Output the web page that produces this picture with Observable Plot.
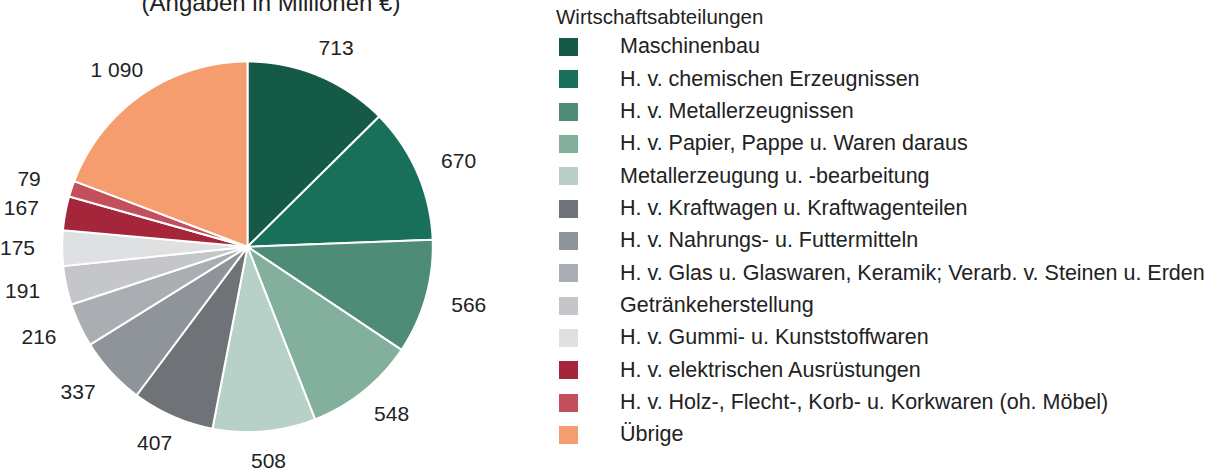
<!DOCTYPE html>
<html>
<head>
<meta charset="utf-8">
<script src="https://cdn.jsdelivr.net/npm/d3@7"></script>
<script src="https://cdn.jsdelivr.net/npm/@observablehq/plot@0.6"></script>
<style>
  html, body { margin: 0; padding: 0; background: #fff; }
  body { width: 1214px; height: 472px; position: relative; overflow: hidden;
         font-family: "Liberation Sans", Arial, sans-serif; color: #222; }
  #title { position: absolute; left: 0; width: 542px; top: -9px; text-align: center;
           font-size: 24px; line-height: 24px; white-space: nowrap; }
  #chart { position: absolute; left: 0; top: 0; }
  #legend-title { position: absolute; left: 556px; top: 6px; font-size: 20.5px; line-height: 21px; white-space: nowrap; }
  #legend { position: absolute; left: 559px; top: 30.8px; }
  .row { height: 32.33px; display: flex; align-items: center; white-space: nowrap; font-size: 21.5px; }
  .sw { width: 19px; height: 18px; margin-right: 42px; flex: none; }
</style>
</head>
<body>
<div id="title"></div>
<div id="chart"></div>
<div id="legend-title"></div>
<div id="legend"></div>
<script>
const categories = [
  "Maschinenbau",
  "H. v. chemischen Erzeugnissen",
  "H. v. Metallerzeugnissen",
  "H. v. Papier, Pappe u. Waren daraus",
  "Metallerzeugung u. -bearbeitung",
  "H. v. Kraftwagen u. Kraftwagenteilen",
  "H. v. Nahrungs- u. Futtermitteln",
  "H. v. Glas u. Glaswaren, Keramik; Verarb. v. Steinen u. Erden",
  "Getränkeherstellung",
  "H. v. Gummi- u. Kunststoffwaren",
  "H. v. elektrischen Ausrüstungen",
  "H. v. Holz-, Flecht-, Korb- u. Korkwaren (oh. Möbel)",
  "Übrige"
];
const values = [713, 670, 566, 548, 508, 407, 337, 216, 191, 175, 167, 79, 1090];
const colors = [
  "#155a47", "#19705a", "#4f8c78", "#82b09c", "#b8d1c8",
  "#6f7277", "#8f939a", "#aaadb1", "#c4c6c9", "#dfe0e1",
  "#a5253a", "#c44f5c", "#f59d6e"
];
const titleText = "(Angaben in Millionen €)";
const legendTitle = "Wirtschaftsabteilungen";

// layout
const W = 540, H = 472, cx = 247, cy = 246.3, R = 185.3;
const labelRx = 230 / R, labelRy = 215 / R;

const fmt = d3.formatLocale({decimal: ",", thousands: " ", grouping: [3], currency: ["", " €"]}).format(",");

const rows = categories.map((c, i) => ({cat: c, value: values[i]}));
const arcs = d3.pie().sort(null).value(d => d.value)(rows);

const points = [];
for (const a of arcs) {
  const cat = a.data.cat;
  points.push({cat, x: 0, y: 0});
  const n = Math.max(2, Math.ceil((a.endAngle - a.startAngle) / 0.004));
  for (let k = 0; k <= n; k++) {
    const t = a.startAngle + (a.endAngle - a.startAngle) * k / n;
    points.push({cat, x: Math.sin(t), y: Math.cos(t)});
  }
  points.push({cat, x: 0, y: 0});
}
const labels = arcs.map(a => {
  const m = (a.startAngle + a.endAngle) / 2;
  return {x: labelRx * Math.sin(m), y: labelRy * Math.cos(m), text: fmt(a.data.value)};
});

const chart = Plot.plot({
  width: W, height: H, margin: 0,
  x: {domain: [-cx / R, (W - cx) / R], axis: null},
  y: {domain: [-(H - cy) / R, cy / R], axis: null},
  color: {domain: categories, range: colors},
  style: {fontFamily: "'Liberation Sans', Arial, sans-serif", background: "transparent", overflow: "visible"},
  marks: [
    Plot.line(points, {x: "x", y: "y", z: "cat", fill: "cat", stroke: "white", strokeWidth: 2, strokeLinejoin: "round", curve: "linear"}),
    Plot.text(labels, {x: "x", y: "y", text: "text", fontSize: 21, fill: "#222"})
  ]
});
document.getElementById("chart").append(chart);

document.getElementById("title").textContent = titleText;
document.getElementById("legend-title").textContent = legendTitle;
const color = chart.scale("color");
const leg = document.getElementById("legend");
categories.forEach((c, i) => {
  const row = document.createElement("div");
  row.className = "row";
  const sw = document.createElement("div");
  sw.className = "sw";
  sw.style.background = color.range[color.domain.indexOf(c)];
  const tx = document.createElement("span");
  tx.textContent = c;
  row.append(sw, tx);
  leg.append(row);
});
</script>
</body>
</html>
